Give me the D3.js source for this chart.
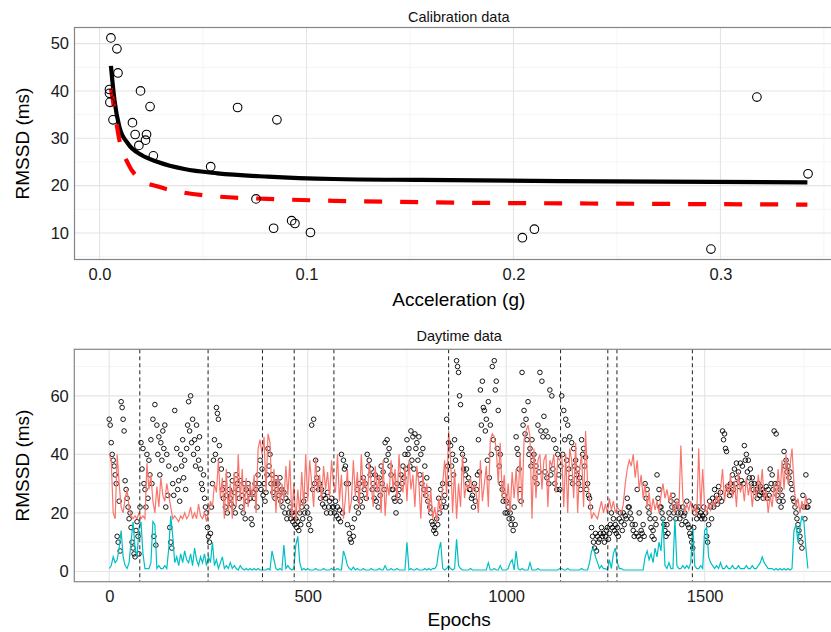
<!DOCTYPE html>
<html>
<head>
<meta charset="utf-8">
<script src="https://cdn.jsdelivr.net/npm/d3@7"></script>
<style>
    body { margin: 0; background: #fff; }
    svg text { font-family: "Liberation Sans", Arial, sans-serif; }
</style>
</head>
<body>
<div id="chart"></div>
<script>
// ---- calibration panel ----
const calibAccel = [0.0055, 0.0084, 0.0089, 0.0048, 0.0048, 0.0050, 0.0065, 0.0198, 0.0244, 0.0159,
    0.0172, 0.0227, 0.0222, 0.0190, 0.0260, 0.0537, 0.0667, 0.0857, 0.0756, 0.0841,
    0.0928, 0.0944, 0.1019, 0.2043, 0.2101, 0.2954, 0.3176, 0.3423];
const calibRmssd = [51.2, 48.9, 43.8, 40.3, 39.5, 37.6, 33.9, 40.0, 36.7, 33.3,
    30.8, 30.8, 29.6, 28.5, 26.3, 24.0, 36.5, 33.9, 17.2, 11.0,
    12.6, 12.0, 10.1, 9.0, 10.8, 6.6, 38.7, 22.5];

// fitted curves
const fitAccel = [0.0055, 0.0072, 0.0096, 0.0137, 0.0201, 0.0282, 0.041, 0.057, 0.0812, 0.113, 0.155, 0.2467, 0.342];
const fitSolid = [45.3, 38.1, 32.4, 28.9, 26.5, 25.0, 23.5, 22.6, 21.9, 21.4, 21.2, 20.9, 20.7];
const fitDashed = [40.5, 36.0, 29.6, 24.7, 21.2, 19.8, 18.5, 17.7, 17.2, 16.8, 16.5, 16.2, 16.0];

const calibXTicks = [0, 0.1, 0.2, 0.3];
const calibXMinor = [0.05, 0.15, 0.25, 0.35];
const calibYTicks = [10, 20, 30, 40, 50];
const calibYMinor = [5, 15, 25, 35, 45];

// ---- daytime panel (one value every 5 epochs) ----
const epochs = d3.range(0, 1761, 5);

const rmssdPred = [
    40, 38, 20, 18, 40, 30, 22, 20, 25, 28,
    22, 19, 18, 19, 18, 20, 18, 19, 18, 37,
    28, 33, 24, 20, 29, 22, 32, 26, 24, 30,
    26, 22, 18, 19, 18, 17, 19, 18, 20, 18,
    19, 22, 18, 20, 18, 23, 19, 18, 20, 17,
    20, 24, 22, 30, 27, 38, 25, 32, 18, 35,
    20, 30, 18, 34, 22, 40, 24, 35, 20, 32,
    22, 30, 25, 33, 20, 42, 45, 40, 46, 27,
    47, 44, 25, 35, 20, 33, 22, 30, 24, 36,
    26, 38, 18, 30, 17, 28, 20, 34, 22, 40,
    24, 38, 30, 22, 39, 27, 33, 24, 36, 28,
    34, 25, 38, 30, 27, 40, 24, 33, 18, 25,
    35, 20, 24, 38, 26, 34, 22, 40, 28, 32,
    24, 37, 30, 22, 36, 27, 33, 20, 38, 19,
    30, 26, 38, 28, 35, 24, 40, 30, 27, 36,
    24, 38, 28, 33, 22, 36, 30, 18, 34, 25,
    30, 20, 28, 18, 22, 17, 25, 20, 30, 38,
    26, 48, 38, 20, 35, 18, 30, 22, 40, 25,
    30, 28, 32, 27, 30, 26, 20, 38, 24, 30,
    36, 22, 45, 47, 46, 42, 30, 44, 25, 33,
    22, 30, 20, 34, 25, 35, 24, 40, 22, 45,
    48, 50, 46, 18, 42, 25, 38, 40, 28, 38,
    40, 22, 38, 36, 40, 27, 39, 38, 40, 22,
    40, 20, 42, 38, 25, 44, 20, 35, 40, 22,
    48, 30, 25, 18, 20, 19, 18, 21, 24, 20,
    23, 20, 25, 21, 24, 20, 22, 21, 20, 23,
    30, 35, 38, 36, 40, 32, 38, 28, 33, 25,
    30, 22, 27, 20, 25, 21, 24, 20, 26, 30,
    25, 28, 24, 27, 22, 20, 24, 21, 43, 25,
    20, 23, 21, 24, 20, 22, 19, 42, 21, 35,
    22, 20, 23, 21, 24, 22, 26, 23, 28, 35,
    24, 30, 26, 33, 25, 31, 22, 34, 27, 30,
    24, 32, 26, 30, 22, 29, 25, 33, 27, 35,
    24, 28, 20, 26, 22, 30, 24, 35, 26, 38,
    28, 40, 30, 36, 42, 30, 22, 25, 20, 24,
    21, 26, 22];

const accelScaled = [
    1, 2, 5, 3, 4, 8, 14, 5, 2, 1,
    3, 10, 17, 8, 5, 15, 17, 6, 1, 1,
    1, 3, 17, 16, 1, 2, 1, 1, 2, 1,
    8, 19, 12, 3, 5, 2, 6, 3, 7, 4,
    3, 6, 2, 8, 4, 2, 5, 3, 6, 2,
    5, 3, 10, 2, 4, 1, 3, 5, 1, 2,
    1, 3, 1, 2, 1, 0.5, 2, 1, 0.5, 1,
    0.5, 1, 0.5, 1, 0.5, 1, 0.5, 0.5, 0.5, 0.5,
    1, 0.5, 7, 4, 1, 0.5, 1, 0.5, 9, 1,
    2, 1, 0.5, 1, 9, 12, 3, 0.5, 1, 0.5,
    1, 0.5, 0.5, 0.5, 1, 0.5, 0.5, 0.5, 1, 0.5,
    0.5, 0.5, 1, 0.5, 0.5, 1, 0.5, 0.5, 7, 5,
    2, 1, 0.5, 1.5, 0.5, 1, 0.5, 0.5, 1, 0.5,
    0.5, 0.5, 1, 0.5, 0.5, 0.5, 1, 0.5, 0.5, 2,
    0.5, 0.5, 1, 0.5, 0.5, 1, 0.5, 0.5, 0.5, 0.5,
    10, 0.5, 1, 0.5, 0.5, 1, 0.5, 0.5, 0.5, 1,
    0.5, 1, 0.5, 1, 1, 2, 7, 10, 1, 0.5,
    1, 2, 1, 0.5, 1, 11, 2, 1, 0.5, 0.5,
    0.5, 0.5, 1, 0.5, 0.5, 0.5, 0.5, 0.5, 0.5, 0.5,
    0.5, 3, 0.5, 0.5, 1, 0.5, 0.5, 2, 0.5, 0.5,
    0.5, 1, 3, 4, 0.5, 7, 1, 0.5, 1, 0.5,
    0.5, 0.5, 3, 0.5, 0.5, 0.5, 1, 0.5, 0.5, 0.5,
    0.5, 0.5, 0.5, 0.5, 0.5, 0.5, 0.5, 1, 1, 0.5,
    0.5, 1, 0.5, 0.5, 0.5, 0.5, 0.5, 0.5, 1, 0.5,
    0.5, 0.5, 3, 7, 8, 5, 3, 1, 2, 1,
    1, 0.5, 4, 1, 6, 8, 3, 1, 1, 0.5,
    0.5, 0.5, 0.5, 0.5, 0.5, 0.5, 0.5, 0.5, 0.5, 0.5,
    5, 7, 4, 6, 3, 8, 5, 10, 7, 18,
    2, 1, 3, 1, 1, 18, 2, 1, 1, 2,
    1, 2, 1, 3, 15, 2, 1, 1, 2, 1,
    14, 15, 5, 3, 2, 1, 2, 1, 3, 1,
    1, 2, 1, 1, 2, 1, 1, 2, 1, 1,
    1, 2, 1, 1, 2, 1, 1, 2, 3, 5,
    3, 2, 1, 1, 1, 0.5, 1, 0.5, 1, 0.5,
    1, 0.5, 1, 0.5, 1, 14, 16, 10, 15, 19,
    17, 8, 1];

// observed RMSSD, two readings per 5-epoch step (at e and e + 2.5)
const rmssdObsA = [
    52, 44, 38, 33, 12, 24, 58, 52, 31, 25,
    18, 15, 8, 5, 17, 6, 44, 42, 28, 40,
    38, 45, 52, 57, 50, 46, 44, 48, 50, 40,
    36, 10, 30, 55, 42, 31, 40, 45, 38, 42,
    58, 60, 52, 45, 50, 38, 35, 28, 25, 20,
    12, 13, 30, 45, 56, 52, 38, 28, 30, 26,
    33, 25, 31, 27, 33, 28, 31, 26, 30, 28,
    30, 25, 16, 25, 28, 33, 38, 35, 30, 27,
    42, 40, 33, 30, 32, 30, 32, 28, 27, 25,
    24, 22, 20, 19, 18, 17, 20, 22, 24, 26,
    20, 18, 50, 52, 38, 35, 30, 28, 26, 25,
    27, 24, 25, 22, 24, 22, 21, 40, 38, 36,
    16, 13, 10, 12, 25, 28, 30, 26, 32, 30,
    40, 38, 35, 30, 33, 28, 32, 36, 34, 44,
    45, 42, 33, 28, 24, 30, 28, 33, 36, 40,
    45, 42, 48, 46, 47, 44, 46, 40, 42, 36,
    32, 28, 20, 16, 15, 18, 25, 28, 30, 26,
    52, 44, 43, 40, 45, 72, 68, 57, 40, 38,
    35, 32, 28, 26, 30, 28, 45, 62, 65, 55,
    52, 58, 50, 70, 72, 65, 55, 40, 28, 26,
    24, 22, 20, 18, 22, 46, 40, 28, 68, 55,
    52, 58, 42, 45, 40, 36, 50, 68, 65, 53,
    48, 46, 62, 60, 45, 42, 40, 28, 60, 55,
    52, 50, 46, 44, 42, 38, 35, 32, 45, 42,
    39, 30, 25, 15, 10, 13, 12, 11, 15, 13,
    12, 15, 13, 20, 18, 16, 15, 18, 17, 20,
    19, 25, 22, 18, 14, 16, 28, 20, 14, 16,
    30, 28, 20, 15, 14, 18, 33, 28, 22, 18,
    14, 16, 20, 24, 26, 22, 24, 22, 20, 22,
    20, 24, 15, 12, 8, 20, 18, 22, 20, 19,
    18, 12, 16, 22, 25, 28, 26, 29, 27, 48,
    47, 41, 28, 30, 33, 35, 37, 34, 37, 36,
    43, 40, 38, 35, 32, 30, 28, 30, 29, 28,
    27, 29, 28, 35, 33, 48, 47, 30, 28, 26,
    41, 38, 36, 34, 28, 24, 20, 16, 12, 8,
    22, 33, 22];

const rmssdObsB = [
    50, 40, 36, 30, 10, 7, 56, 48, 28, 22,
    20, 10, 6, 14, 12, 22, 35, 30, 22, 25,
    33, 30, 12, 9, 40, 33, 38, 42, 22, 26,
    15, 8, 26, 35, 28, 24, 36, 32, 28, 50,
    48, 44, 40, 36, 42, 46, 30, 33, 22, 15,
    10, 22, 38, 40, 54, 43, 35, 25, 22, 20,
    28, 23, 22, 20, 30, 25, 22, 20, 18, 24,
    27, 18, 27, 30, 22, 30, 28, 26, 24, 33,
    36, 30, 27, 25, 28, 26, 24, 22, 20, 18,
    20, 18, 17, 16, 15, 14, 16, 18, 20, 22,
    16, 14, 28, 30, 32, 28, 25, 23, 22, 20,
    22, 20, 22, 20, 19, 18, 17, 20, 35, 30,
    30, 11, 15, 18, 22, 20, 24, 22, 28, 25,
    36, 33, 28, 25, 24, 22, 26, 30, 28, 38,
    40, 36, 28, 25, 20, 26, 24, 30, 32, 35,
    40, 36, 38, 35, 42, 38, 33, 30, 28, 26,
    24, 22, 17, 14, 13, 16, 20, 22, 24, 22,
    36, 30, 36, 33, 38, 70, 60, 42, 35, 33,
    30, 28, 25, 22, 24, 33, 34, 50, 56, 48,
    38, 32, 40, 45, 62, 42, 36, 30, 24, 20,
    20, 18, 16, 14, 16, 42, 35, 24, 50, 47,
    45, 40, 36, 38, 32, 30, 34, 48, 46, 34,
    32, 30, 33, 35, 30, 28, 33, 36, 40, 45,
    38, 35, 32, 30, 36, 33, 30, 28, 40, 36,
    28, 26, 22, 12, 8, 7, 10, 13, 12, 10,
    14, 11, 16, 15, 14, 13, 12, 20, 14, 16,
    18, 22, 20, 16, 12, 13, 12, 11, 13, 12,
    25, 22, 18, 12, 11, 16, 25, 22, 20, 16,
    12, 13, 18, 22, 20, 18, 20, 18, 16, 19,
    17, 16, 13, 10, 15, 22, 21, 19, 18, 22,
    20, 10, 24, 18, 22, 24, 23, 25, 24, 45,
    42, 29, 26, 27, 28, 30, 32, 29, 31, 30,
    38, 34, 32, 30, 28, 27, 25, 26, 27, 25,
    26, 25, 26, 30, 28, 30, 26, 24, 22, 24,
    36, 34, 32, 30, 25, 22, 18, 14, 10, 26,
    18, 22, 24];

const changePoints = [77, 249, 386, 466, 566, 855, 1137, 1256, 1279, 1469];

const dayXTicks = [0, 500, 1000, 1500];
const dayXMinor = [250, 750, 1250, 1750];
const dayYTicks = [0, 20, 40, 60];
const dayYMinor = [10, 30, 50, 70];


class panelViz {
    constructor(svg, opts) {
        this.svg = svg;
        this.opts = opts;
    }

    initViz() {
        let vis = this;
        let o = vis.opts;

        vis.x = d3.scaleLinear().domain(o.xDomain).range([o.left, o.right]);
        vis.y = d3.scaleLinear().domain(o.yDomain).range([o.bottom, o.top]);

        vis.g = vis.svg.append("g");

        // minor grid then major grid
        vis.g.selectAll(".xminor").data(o.xMinor).enter().append("line")
            .attr("x1", d => vis.x(d)).attr("x2", d => vis.x(d))
            .attr("y1", o.top).attr("y2", o.bottom)
            .attr("stroke", "#f2f2f2").attr("stroke-width", 0.8);
        vis.g.selectAll(".yminor").data(o.yMinor).enter().append("line")
            .attr("y1", d => vis.y(d)).attr("y2", d => vis.y(d))
            .attr("x1", o.left).attr("x2", o.right)
            .attr("stroke", "#f2f2f2").attr("stroke-width", 0.8);
        vis.g.selectAll(".xmajor").data(o.xTicks).enter().append("line")
            .attr("x1", d => vis.x(d)).attr("x2", d => vis.x(d))
            .attr("y1", o.top).attr("y2", o.bottom)
            .attr("stroke", "#e4e4e4").attr("stroke-width", 1.1);
        vis.g.selectAll(".ymajor").data(o.yTicks).enter().append("line")
            .attr("y1", d => vis.y(d)).attr("y2", d => vis.y(d))
            .attr("x1", o.left).attr("x2", o.right)
            .attr("stroke", "#e4e4e4").attr("stroke-width", 1.1);

        vis.marks = vis.g.append("g");
    }

    finishViz() {
        let vis = this;
        let o = vis.opts;

        vis.g.append("rect")
            .attr("x", o.left).attr("y", o.top)
            .attr("width", o.right - o.left).attr("height", o.bottom - o.top)
            .attr("fill", "none").attr("stroke", "#858585").attr("stroke-width", 1.2);

        let xAxis = vis.g.append("g")
            .attr("transform", "translate(0," + o.bottom + ")")
            .call(d3.axisBottom(vis.x).tickValues(o.xTicks).tickFormat(o.xFormat).tickSize(0).tickPadding(9));
        let yAxis = vis.g.append("g")
            .attr("transform", "translate(" + o.left + ",0)")
            .call(d3.axisLeft(vis.y).tickValues(o.yTicks).tickSize(0).tickPadding(5.5));

        [xAxis, yAxis].forEach(a => {
            a.attr("font-size", null).attr("font-family", null);
            a.select(".domain").remove();
            a.selectAll("text").attr("font-size", "16.5px").attr("fill", "#1a1a1a");
        });

        vis.g.append("text")
            .attr("x", (o.left + o.right) / 2).attr("y", o.titleY)
            .attr("text-anchor", "middle").attr("font-size", "14.5px").attr("fill", "#111")
            .text(o.title);

        vis.g.append("text")
            .attr("x", (o.left + o.right) / 2).attr("y", o.xTitleY)
            .attr("text-anchor", "middle").attr("font-size", "19px").attr("fill", "#000")
            .text(o.xTitle);

        vis.g.append("text")
            .attr("transform", "translate(28.5," + ((o.top + o.bottom) / 2) + ") rotate(-90)")
            .attr("text-anchor", "middle").attr("font-size", "19px").attr("fill", "#000")
            .text("RMSSD (ms)");
    }
}

const svg = d3.select("#chart").append("svg")
    .attr("width", 831)
    .attr("height", 632);

svg.append("rect").attr("width", 831).attr("height", 632).attr("fill", "#fff");

// top panel
let calib = new panelViz(svg, {
    left: 74.5, right: 843, top: 27.5, bottom: 259.5,
    xDomain: [-0.0121, 0.3592], yDomain: [4.4, 53.4],
    xTicks: calibXTicks, xMinor: calibXMinor, yTicks: calibYTicks, yMinor: calibYMinor,
    xFormat: d3.format(".1f"),
    title: "Calibration data", titleY: 21.5,
    xTitle: "Acceleration (g)", xTitleY: 305.5
});
calib.initViz();

let fitLine = (vals) => d3.line()
    .x((d, i) => calib.x(fitAccel[i]))
    .y(d => calib.y(d))
    .curve(d3.curveMonotoneX)(vals);

calib.marks.append("path")
    .attr("d", fitLine(fitSolid))
    .attr("fill", "none").attr("stroke", "#000").attr("stroke-width", 4.2);

calib.marks.append("path")
    .attr("d", fitLine(fitDashed))
    .attr("fill", "none").attr("stroke", "#ff0000").attr("stroke-width", 4.2)
    .attr("stroke-dasharray", "18,18");

calib.marks.selectAll("circle").data(calibAccel).enter().append("circle")
    .attr("cx", d => calib.x(d))
    .attr("cy", (d, i) => calib.y(calibRmssd[i]))
    .attr("r", 4.3)
    .attr("fill", "none").attr("stroke", "#000").attr("stroke-width", 1.1);

calib.finishViz();

// bottom panel
let day = new panelViz(svg, {
    left: 74.3, right: 844, top: 349.3, bottom: 581.7,
    xDomain: [-88, 1851], yDomain: [-3.5, 75.9],
    xTicks: dayXTicks, xMinor: dayXMinor, yTicks: dayYTicks, yMinor: dayYMinor,
    xFormat: d => d,
    title: "Daytime data", titleY: 341,
    xTitle: "Epochs", xTitleY: 626
});
day.initViz();

let obs = [];
epochs.forEach((e, i) => {
    obs.push([e, rmssdObsA[i]]);
    obs.push([e + 2.5, rmssdObsB[i]]);
});

day.marks.selectAll("circle").data(obs).enter().append("circle")
    .attr("cx", d => day.x(d[0]))
    .attr("cy", d => day.y(d[1]))
    .attr("r", 2.3)
    .attr("fill", "none").attr("stroke", "#000").attr("stroke-width", 0.9);

let seriesLine = d3.line()
    .x((d, i) => day.x(epochs[i]))
    .y(d => day.y(d));

day.marks.append("path")
    .attr("d", seriesLine(rmssdPred))
    .attr("fill", "none").attr("stroke", "#F8766D").attr("stroke-width", 1.2);

day.marks.append("path")
    .attr("d", seriesLine(accelScaled))
    .attr("fill", "none").attr("stroke", "#00BFC4").attr("stroke-width", 1.2);

day.marks.selectAll(".cp").data(changePoints).enter().append("line")
    .attr("class", "cp")
    .attr("x1", d => day.x(d)).attr("x2", d => day.x(d))
    .attr("y1", day.opts.top).attr("y2", day.opts.bottom)
    .attr("stroke", "#222").attr("stroke-width", 1)
    .attr("stroke-dasharray", "4,3");

day.finishViz();
</script>
</body>
</html>
